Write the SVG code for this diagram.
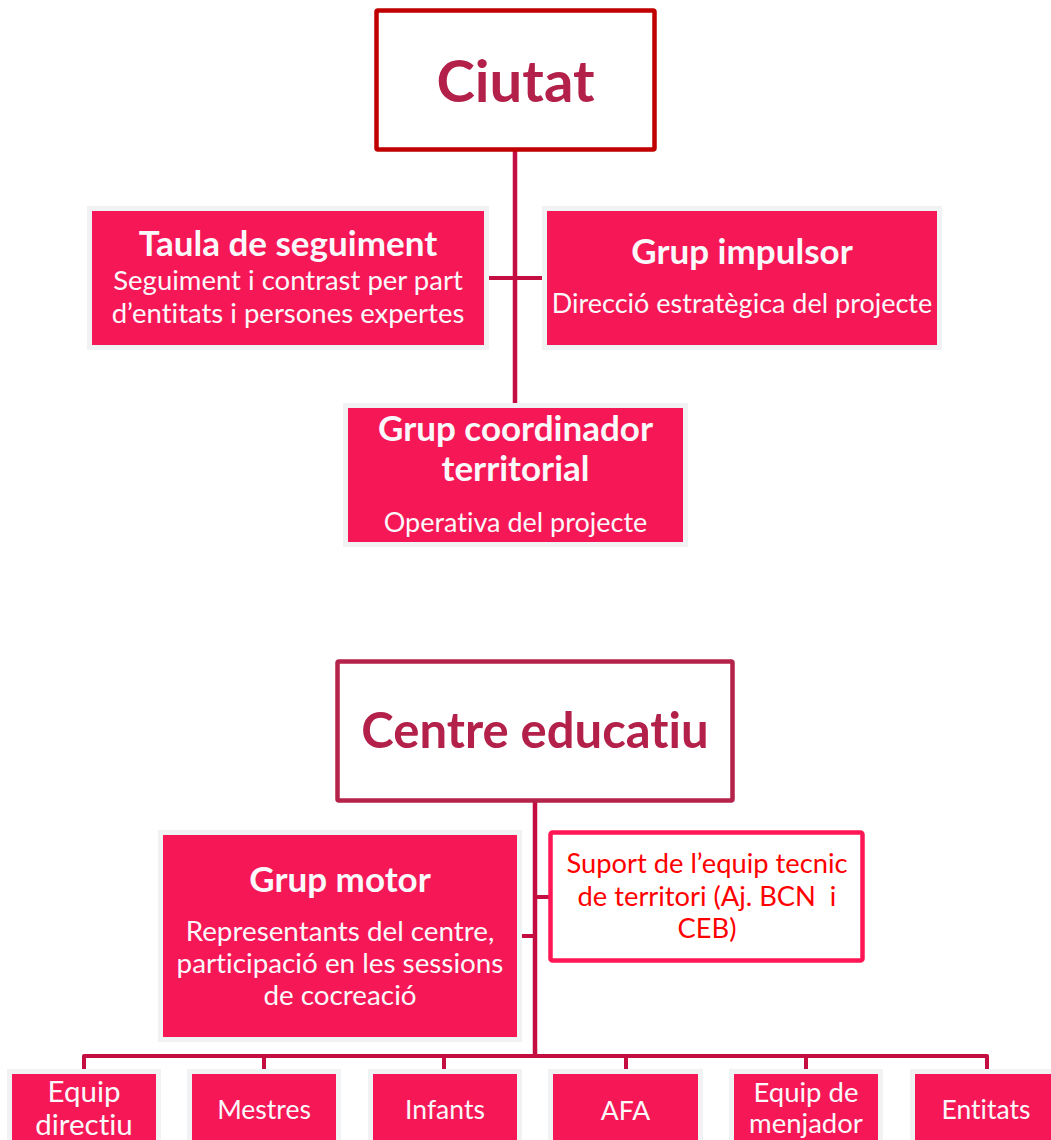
<svg xmlns="http://www.w3.org/2000/svg" width="1051" height="1140" viewBox="0 0 1051 1140">
<style>
text{font-family:Lato,"Noto Sans",sans-serif;font-variant-ligatures:none;text-anchor:middle}
.box{fill:#F51756;stroke:#F1F2F4;stroke-width:5}
.wt{fill:#FAF8FA}
.b{font-weight:bold}
.hd{fill:#B3214A;font-weight:bold}
.rd{fill:#FF0000;font-size:27.3px}
.ln{stroke:#C40E42;stroke-width:4.5;fill:none}
.bus{stroke:#C40E42;stroke-width:4;fill:none;stroke-linejoin:round}
</style>
<rect width="1051" height="1140" fill="#FFFFFF"/>
<g id="connectors">
<line class="ln" x1="515" y1="150" x2="515" y2="406"/>
<line class="bus" x1="486" y1="278" x2="545" y2="278"/>
<line class="ln" x1="535" y1="800" x2="535" y2="1056"/>
<line class="bus" x1="520" y1="936" x2="535" y2="936"/>
<line class="bus" x1="535" y1="897" x2="550" y2="897"/>
<path class="bus" d="M84,1070 V1056 H987 V1070"/>
<line class="bus" x1="264" y1="1056" x2="264" y2="1070"/>
<line class="bus" x1="444" y1="1056" x2="444" y2="1070"/>
<line class="bus" x1="626" y1="1056" x2="626" y2="1070"/>
<line class="bus" x1="806" y1="1056" x2="806" y2="1070"/>
</g>
<g id="ciutat">
<rect x="376.5" y="10.5" width="278" height="139" fill="#FFFFFF" stroke="#C00000" stroke-width="4.5" rx="1.5"/>
<text class="hd" x="515.5" y="102" font-size="58">Ciutat</text>
</g>
<g id="taula">
<rect class="box" x="89.5" y="208.5" width="397" height="139"/>
<text class="wt b" x="288" y="256" font-size="35">Taula de seguiment</text>
<text class="wt" x="288" y="290" font-size="27.5">Seguiment i contrast per part</text>
<text class="wt" x="288" y="323" font-size="27.5">d’entitats i persones expertes</text>
</g>
<g id="impulsor">
<rect class="box" x="544.5" y="208.5" width="395" height="139"/>
<text class="wt b" x="742" y="264" font-size="35">Grup impulsor</text>
<text class="wt" x="742" y="313" font-size="27">Direcció estratègica del projecte</text>
</g>
<g id="coordinador">
<rect class="box" x="345.5" y="405.5" width="340" height="139"/>
<text class="wt b" x="515.5" y="441" font-size="35">Grup coordinador</text>
<text class="wt b" x="515.5" y="481" font-size="35">territorial</text>
<text class="wt" x="515.5" y="532" font-size="27">Operativa del projecte</text>
</g>
<g id="centre">
<rect x="337.5" y="661.5" width="395" height="139" fill="#FFFFFF" stroke="#B5234A" stroke-width="4.5" rx="1.5"/>
<text class="hd" x="535" y="748" font-size="49">Centre educatiu</text>
</g>
<g id="motor">
<rect class="box" x="160.5" y="832.5" width="359" height="207"/>
<text class="wt b" x="340" y="892" font-size="35">Grup motor</text>
<text class="wt" x="340" y="941" font-size="27.8">Representants del centre,</text>
<text class="wt" x="340" y="973" font-size="27.8">participació en les sessions</text>
<text class="wt" x="340" y="1005" font-size="27.8">de cocreació</text>
</g>
<g id="suport">
<rect x="550.5" y="832.5" width="312" height="128" fill="#FFFFFF" stroke="#FF1755" stroke-width="4.5" rx="2"/>
<text class="rd" x="707" y="873">Suport de l’equip tecnic</text>
<text class="rd" x="707" y="906" xml:space="preserve">de territori (Aj. BCN  i</text>
<text class="rd" x="707" y="938">CEB)</text>
</g>
<g id="equip-directiu">
<rect class="box" x="9.5" y="1071.5" width="149" height="80"/>
<text class="wt" x="84" y="1102" font-size="29.5">Equip</text>
<text class="wt" x="84" y="1135" font-size="29.5">directiu</text>
</g>
<g id="mestres">
<rect class="box" x="189.5" y="1071.5" width="149" height="80"/>
<text class="wt" x="264" y="1119" font-size="26.5">Mestres</text>
</g>
<g id="infants">
<rect class="box" x="370.5" y="1071.5" width="149" height="80"/>
<text class="wt" x="445" y="1119" font-size="26.5">Infants</text>
</g>
<g id="afa">
<rect class="box" x="550.5" y="1071.5" width="150" height="80"/>
<text class="wt" x="625.5" y="1120" font-size="26.5">AFA</text>
</g>
<g id="menjador">
<rect class="box" x="731.5" y="1071.5" width="149" height="80"/>
<text class="wt" x="806" y="1102" font-size="27.5">Equip de</text>
<text class="wt" x="806" y="1133" font-size="27.5">menjador</text>
</g>
<g id="entitats">
<rect class="box" x="912.5" y="1071.5" width="149" height="80"/>
<text class="wt" x="986" y="1119" font-size="26.5">Entitats</text>
</g>
</svg>
